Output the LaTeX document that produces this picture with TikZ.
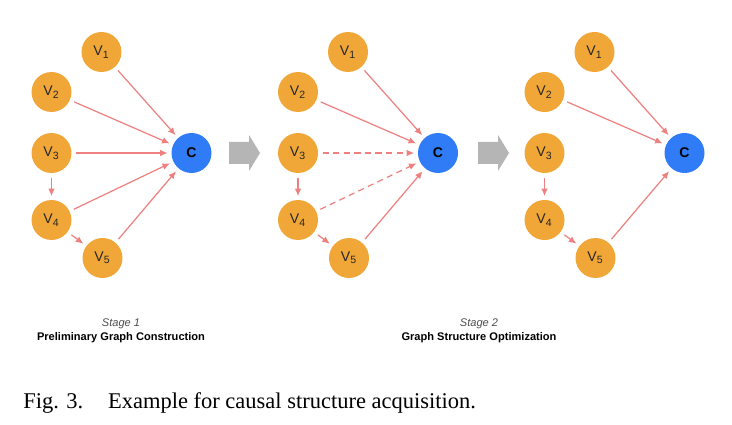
\documentclass[tikz,border=0pt]{standalone}
\usepackage{fontspec}
\setmainfont{Liberation Serif}
\setsansfont{Liberation Sans}
\definecolor{vOrange}{HTML}{F0A737}
\definecolor{vBlue}{HTML}{2F7CF6}
\definecolor{eRed}{HTML}{EE8080}
\definecolor{aGray}{HTML}{B5B5B5}
\usetikzlibrary{arrows.meta}

\begin{document}
\begin{tikzpicture}[x=0.02cm, y=-0.02cm,
    var/.style={circle, fill=vOrange, minimum size=0.8cm, inner sep=0pt,
      font=\sffamily\fontsize{8}{9}\selectfont, text=black!85},
    target/.style={circle, fill=vBlue, minimum size=0.8cm, inner sep=0pt,
      font=\sffamily\bfseries\fontsize{8}{9}\selectfont},
    edge/.style={-{Latex[length=4.3pt,width=3.8pt]}, eRed, line width=0.7pt,
      shorten <=2.5pt, shorten >=2pt},
    hint/.style={edge, dash pattern=on 3.5pt off 2.5pt},
    stage/.style={font=\sffamily\itshape\fontsize{6.3}{7}\selectfont, text=black!70},
    title/.style={font=\sffamily\bfseries\fontsize{6.3}{7}\selectfont}]
  \useasboundingbox (0,0) rectangle (732,425);
  % the three graphs, side by side
  \foreach \p/\dx in {a/0, b/246.5, c/493}{
    \begin{scope}[xshift=\dx*0.02cm]
      \node[var] (\p1) at (101.5,52) {V\textsubscript{1}};
      \node[var] (\p2) at (51.5,92) {V\textsubscript{2}};
      \node[var] (\p3) at (51.5,153) {V\textsubscript{3}};
      \node[var] (\p4) at (51.5,220) {V\textsubscript{4}};
      \node[var] (\p5) at (102.5,258) {V\textsubscript{5}};
      \node[target] (\p c) at (191.5,153) {C};
    \end{scope}}
  \foreach \p in {a,b,c}{
    \draw[edge] (\p3) -- (\p4);
    \draw[edge] (\p4) -- (\p5);
    \foreach \i in {1,2,5}
      \draw[edge] (\p\i) -- (\p c);}
  \foreach \i in {3,4}{
    \draw[edge] (a\i) -- (ac);
    \draw[hint] (b\i) -- (bc);}
  % block arrows between the stages
  \foreach \dx in {0,249}
    \fill[aGray] (229+\dx,142) -- ++(20,0) -- ++(0,-7) -- (260+\dx,153)
      -- (249+\dx,171) -- ++(0,-7) -- (229+\dx,164) -- cycle;
  \node[stage] (s1) at (121,324) {Stage 1};
  \node[title] (t1) at (121,338) {Preliminary Graph Construction};
  \node[stage] (s2) at (479,324) {Stage 2};
  \node[title] (t2) at (479,338) {Graph Structure Optimization};
  \node[anchor=base west, inner sep=0pt, font=\fontsize{12.8}{15}\selectfont]
    (cap) at (23,408) {Fig. 3.\hspace{1.1em}Example for causal structure acquisition.};
\end{tikzpicture}
\end{document}
